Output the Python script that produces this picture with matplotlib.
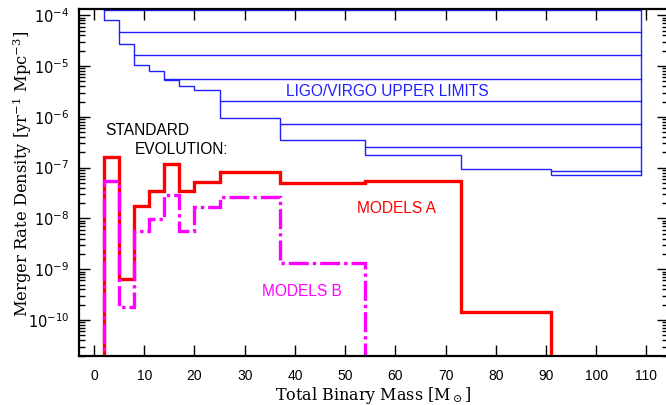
import numpy as np
import matplotlib
matplotlib.use("Agg")
import matplotlib.pyplot as plt
from matplotlib.ticker import LogLocator, NullFormatter

plt.rcParams['mathtext.fontset'] = 'dejavuserif'

# mass bin edges [M_sun]
edges = [2, 5, 8, 11, 14, 17, 20, 25, 37, 54, 73, 91, 109]

# LIGO/VIRGO upper limits per bin
ligo_bins = [8.1e-5, 2.72e-5, 1.05e-5, 8.0e-6, 5.3e-6, 4.1e-6, 3.4e-6,
             9.5e-7, 3.5e-7, 1.78e-7, 9.4e-8, 7.2e-8]
# horizontal limit lines running from a start mass to the top mass
ligo_start = [2, 5, 8, 14, 25, 37, 54, 91]
ligo_level = [1.3e-4, 4.7e-5, 1.66e-5, 5.6e-6, 2.06e-6, 7.2e-7, 2.55e-7, 8.6e-8]

# standard evolution models
models_a = [1.65e-7, 6.4e-10, 1.77e-8, 3.5e-8, 1.18e-7, 3.4e-8, 5.3e-8,
            8.3e-8, 4.93e-8, 5.55e-8, 1.44e-10]          # up to 91
models_b = [5.47e-8, 1.81e-10, 5.75e-9, 9.6e-9, 2.9e-8, 5.7e-9, 1.71e-8,
            2.61e-8, 1.31e-9]                              # up to 54

xticks = list(range(0, 111, 10))

fig = plt.figure(figsize=(6.66, 4.05), dpi=100)
ax = fig.add_axes([79/666, 1-355.5/405, (668-79)/666, (355.5-9)/405])

blue = '#1f1fff'
# staircase of upper limits
ax.stairs(ligo_bins, edges, baseline=None, color=blue, lw=1.0)
for x0, lv in zip(ligo_start, ligo_level):
    ax.plot([x0, edges[-1]], [lv, lv], color=blue, lw=1.0)
ax.plot([edges[0], edges[0]], [ligo_level[0], ligo_bins[0]], color=blue, lw=1.0)
ax.plot([edges[-1], edges[-1]], [ligo_bins[-1], ligo_level[0]], color=blue, lw=1.0)

ax.stairs(models_a, edges[:len(models_a)+1], baseline=1e-20,
          color='#ff0000', lw=2.4)
ax.stairs(models_b, edges[:len(models_b)+1], baseline=1e-20,
          color='#ff00ff', lw=2.4, linestyle=(0, (6, 1.2, 1, 1.2)))

ax.set_yscale('log')
ax.set_xlim(-3, 114.3)
ax.set_ylim(2.0e-11, 1.33e-4)

ax.set_xticks(xticks)
ax.xaxis.set_minor_locator(plt.NullLocator())
ax.yaxis.set_major_locator(LogLocator(base=10, numticks=20))
ax.yaxis.set_minor_locator(LogLocator(base=10, subs=np.arange(2, 10), numticks=20))
ax.yaxis.set_minor_formatter(NullFormatter())
ax.tick_params(which='major', direction='in', length=8, width=1, top=True, right=True)
ax.tick_params(which='minor', direction='in', length=4, width=1, top=True, right=True)
ax.tick_params(axis='x', pad=10, labelsize=10)
ax.tick_params(axis='y', pad=7, labelsize=10.5)
for lab in ax.get_xticklabels():
    lab.set_fontfamily('Liberation Sans')
for sp in ax.spines.values():
    sp.set_linewidth(1.6)

fig.text(373/666, 1-395/405, r'Total Binary Mass [M$_\odot$]', ha='center', va='center',
         fontsize=11.5, family='DejaVu Serif')
fig.text(22/666, 1-174/405, r'Merger Rate Density [yr$^{-1}$ Mpc$^{-3}$]', ha='center',
         va='center', rotation=90, fontsize=11.8, family='DejaVu Serif')

ax.text(38.2, 3.1e-6, 'LIGO/VIRGO UPPER LIMITS', color='#1f1fff', fontsize=11.2,
        family='Liberation Sans', ha='left', va='center')
ax.text(2.2, 5.5e-7, 'STANDARD', color='black', fontsize=11.2,
        family='Liberation Sans', ha='left', va='center')
ax.text(8.2, 2.3e-7, 'EVOLUTION:', color='black', fontsize=11.2,
        family='Liberation Sans', ha='left', va='center')
ax.text(52.3, 1.58e-8, 'MODELS A', color='#ff0000', fontsize=11.2,
        family='Liberation Sans', ha='left', va='center')
ax.text(33.4, 3.7e-10, 'MODELS B', color='#ff00ff', fontsize=11.2,
        family='Liberation Sans', ha='left', va='center')

fig.savefig('out.png', dpi=100)
